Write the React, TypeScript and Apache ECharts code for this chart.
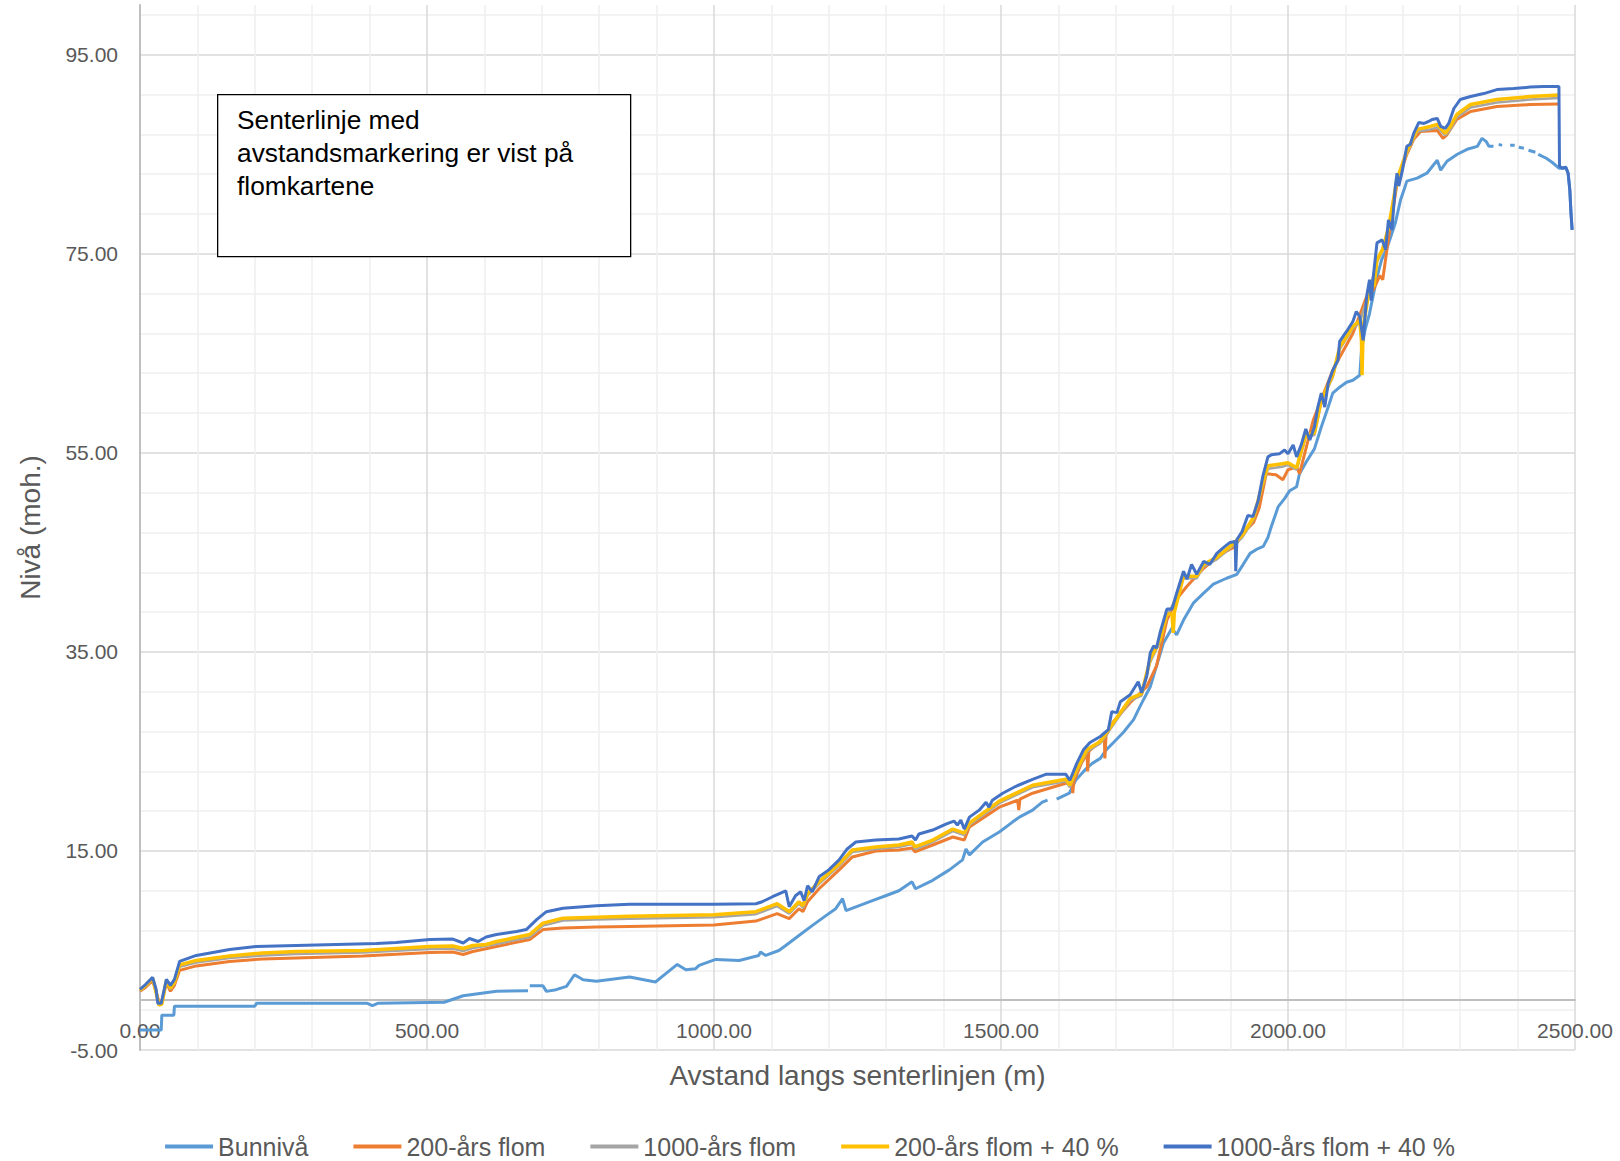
import React, { useEffect, useRef } from "react";
import * as echarts from "echarts";

const FONT = "'Liberation Sans', Arial, Helvetica, sans-serif";

const seriesNames = [
  "Bunnivå",
  "200-års flom",
  "1000-års flom",
  "200-års flom + 40 %",
  "1000-års flom + 40 %",
];
const seriesColors = ["#5B9BD5", "#ED7D31", "#A5A5A5", "#FFC000", "#4472C4"];

const xTicks = [0, 500, 1000, 1500, 2000, 2500];
const yTicks = [-5, 15, 35, 55, 75, 95];

const noteText = ["Senterlinje med", "avstandsmarkering er vist på", "flomkartene"];

// [distance (m), level (moh.)]
const bunniva: [number, number | null][] = [
  [0, -3.0], [37, -3.0], [38, -1.5], [59, -1.5], [60, -0.6], [200, -0.6], [203, -0.3],
  [395, -0.3], [405, -0.55], [415, -0.3], [530, -0.2], [563, 0.45], [621, 0.9], [676, 0.96],
  [677, null], [679, 1.46], [702, 1.46], [708, 0.89], [725, 1.06], [743, 1.4], [757, 2.56],
  [772, 2.06], [795, 1.9], [853, 2.33], [898, 1.83], [916, 2.67], [936, 3.6], [951, 3.07],
  [968, 3.17], [974, 3.5], [1003, 4.1], [1044, 4.0], [1078, 4.5], [1081, 4.85], [1090, 4.5],
  [1113, 5.0], [1125, 5.5], [1148, 6.5], [1171, 7.5], [1195, 8.5], [1212, 9.2], [1224, 10.2],
  [1230, 9.0], [1253, 9.5], [1276, 10.0], [1299, 10.5], [1322, 11.0], [1345, 11.9], [1351, 11.2],
  [1381, 12.05], [1410, 13.1], [1433, 14.1], [1439, 15.2], [1445, 14.6], [1468, 15.9],
  [1497, 16.9], [1520, 17.9], [1532, 18.4], [1555, 19.1], [1572, 19.9], [1581, 20.1],
  [1589, null], [1597, 20.2], [1619, 20.8], [1630, 22.1], [1649, 23.3], [1659, 23.8],
  [1673, 24.3], [1684, 25.2], [1696, 25.9], [1713, 26.9], [1731, 28.2], [1742, 29.5],
  [1760, 31.5], [1771, 33.6], [1783, 35.9], [1798, 37.4], [1806, 36.7], [1818, 38.2],
  [1835, 39.9], [1853, 40.9], [1870, 41.8], [1893, 42.4], [1911, 42.8], [1922, 43.8],
  [1934, 44.9], [1945, 45.3], [1957, 45.6], [1965, 46.5], [1971, 47.6], [1983, 49.6],
  [1994, 50.4], [2003, 51.2], [2015, 51.6], [2020, 52.9], [2032, 54.1], [2046, 55.4],
  [2058, 57.6], [2070, 59.6], [2078, 61.0], [2090, 61.6], [2102, 62.1], [2113, 62.3],
  [2125, 62.8], [2128, 65.3], [2134, 67.3], [2142, 69.0], [2148, 70.7], [2154, 72.4],
  [2163, 74.4], [2172, 75.5], [2187, 78.1], [2196, 80.4], [2202, 81.4], [2207, 82.3],
  [2225, 82.6], [2242, 83.1], [2260, 84.4], [2266, 83.4], [2277, 84.3], [2295, 85.0],
  [2312, 85.5], [2330, 85.8], [2338, 86.6], [2345, 86.3], [2350, 85.8], [2358, 85.8],
  [2362, null], [2367, 86.0], [2373, 85.9], [2380, null], [2387, 85.9], [2395, 85.9],
  [2398, null], [2402, 85.7], [2411, 85.6], [2415, null], [2419, 85.4], [2431, 85.2],
  [2433, null], [2436, 85.0], [2450, 84.6], [2460, 84.2], [2472, 83.6], [2478, 83.6],
  [2484, 83.7], [2488, 83.1], [2491, 81.4], [2493, 79.1], [2495, 77.4],
];

const flom200: [number, number][] = [
  [0, 0.9], [10, 1.3], [22, 2.0], [28, 0.9], [33, -0.2], [38, -0.1], [46, 1.8], [53, 0.9],
  [60, 1.5], [69, 3.0], [98, 3.45], [156, 3.9], [214, 4.15], [272, 4.25], [388, 4.45],
  [505, 4.8], [545, 4.85], [563, 4.6], [580, 4.9], [621, 5.4], [679, 6.1], [702, 7.1],
  [737, 7.25], [795, 7.35], [853, 7.42], [1000, 7.55], [1073, 7.95], [1110, 8.7], [1131, 8.2],
  [1148, 9.2], [1155, 8.9], [1163, 9.9], [1183, 11.2], [1218, 13.1], [1241, 14.4],
  [1282, 15.0], [1322, 15.1], [1345, 15.3], [1350, 14.9], [1381, 15.6], [1416, 16.4],
  [1436, 16.1], [1445, 17.4], [1497, 19.4], [1529, 20.1], [1531, 19.1], [1533, 20.2],
  [1555, 20.8], [1613, 21.8], [1624, 21.8], [1625, 20.8], [1627, 22.0], [1640, 23.8],
  [1650, 24.8], [1651, 23.0], [1653, 25.0], [1670, 25.9], [1680, 26.4], [1681, 24.3],
  [1683, 26.6], [1696, 28.0], [1725, 29.9], [1754, 31.5], [1771, 33.6], [1789, 38.2],
  [1806, 40.3], [1824, 41.6], [1853, 43.4], [1882, 44.8], [1905, 45.5], [1928, 47.3],
  [1940, 48.0], [1950, 49.5], [1962, 52.9], [1979, 52.8], [1991, 52.3], [2000, 53.3],
  [2015, 53.6], [2020, 52.9], [2044, 58.3], [2078, 63.3], [2090, 64.6], [2113, 67.0],
  [2137, 70.7], [2148, 71.3], [2160, 72.8], [2165, 72.4], [2175, 76.5], [2190, 82.1],
  [2207, 85.0], [2219, 86.5], [2231, 87.3], [2260, 87.4], [2270, 86.6], [2276, 86.9],
  [2294, 88.5], [2318, 89.3], [2364, 89.8], [2422, 90.0], [2472, 90.05],
];

const flom1000: [number, number][] = [
  [0, 0.95], [10, 1.4], [22, 2.1], [28, 0.8], [33, -0.4], [38, -0.3], [46, 1.9], [53, 1.1],
  [60, 1.7], [69, 3.35], [98, 3.8], [156, 4.25], [214, 4.5], [272, 4.65], [388, 4.8],
  [505, 5.15], [545, 5.2], [563, 4.95], [580, 5.25], [621, 5.65], [679, 6.35], [702, 7.5],
  [737, 8.0], [795, 8.1], [853, 8.2], [1000, 8.35], [1073, 8.65], [1110, 9.45], [1131, 8.7],
  [1148, 9.7], [1155, 9.3], [1163, 10.5], [1183, 11.7], [1218, 13.5], [1241, 14.9],
  [1282, 15.2], [1322, 15.4], [1345, 15.7], [1350, 15.2], [1381, 15.9], [1416, 17.0],
  [1436, 16.6], [1445, 17.6], [1497, 19.8], [1555, 21.4], [1613, 22.0], [1620, 21.4],
  [1632, 23.0], [1650, 25.0], [1673, 25.8], [1690, 27.2], [1702, 28.2], [1725, 30.1],
  [1745, 30.6], [1760, 34.0], [1777, 36.0], [1789, 38.6], [1806, 40.5], [1818, 42.4],
  [1841, 42.4], [1853, 43.6], [1876, 44.3], [1899, 45.4], [1920, 46.5], [1940, 48.3],
  [1956, 51.8], [1965, 53.4], [1990, 53.6], [2000, 53.8], [2015, 53.3], [2031, 56.6],
  [2046, 56.8], [2058, 60.1], [2078, 62.6], [2090, 65.4], [2113, 67.5], [2125, 68.1],
  [2142, 71.3], [2155, 74.2], [2165, 75.3], [2175, 77.4], [2190, 82.3], [2207, 85.1],
  [2225, 87.3], [2248, 87.5], [2260, 87.7], [2274, 86.9], [2283, 87.5], [2294, 88.7],
  [2318, 89.7], [2364, 90.2], [2422, 90.5], [2472, 90.65],
];

const flom200p40: [number, number][] = [
  [0, 1.0], [10, 1.5], [22, 2.2], [28, 0.8], [33, -0.5], [38, -0.4], [46, 2.0], [53, 1.2],
  [60, 1.8], [69, 3.55], [98, 4.0], [156, 4.45], [214, 4.75], [272, 4.9], [388, 5.0],
  [505, 5.4], [545, 5.45], [563, 5.2], [580, 5.5], [603, 5.6], [621, 5.9], [679, 6.6],
  [702, 7.75], [737, 8.25], [795, 8.35], [853, 8.45], [1000, 8.6], [1073, 8.9], [1110, 9.7],
  [1131, 8.9], [1148, 9.9], [1155, 9.5], [1163, 10.7], [1183, 11.9], [1218, 13.7],
  [1241, 15.1], [1282, 15.4], [1322, 15.6], [1345, 15.9], [1350, 15.4], [1381, 16.1],
  [1416, 17.2], [1436, 16.8], [1445, 17.8], [1497, 20.0], [1555, 21.6], [1613, 22.2],
  [1620, 21.6], [1632, 23.2], [1650, 25.2], [1673, 26.0], [1690, 27.4], [1702, 28.4],
  [1725, 30.3], [1745, 30.8], [1760, 34.3], [1777, 36.2], [1789, 38.8], [1798, 38.8],
  [1800, 36.9], [1802, 39.0], [1818, 42.6], [1841, 42.6], [1853, 43.8], [1876, 44.5],
  [1899, 45.6], [1920, 46.7], [1940, 48.5], [1956, 52.0], [1965, 53.7], [1990, 53.9],
  [2000, 54.0], [2015, 53.5], [2031, 56.8], [2046, 57.0], [2058, 60.3], [2078, 62.8],
  [2090, 65.6], [2113, 67.7], [2125, 68.3], [2128, 66.3], [2129, 62.8], [2131, 67.7],
  [2142, 71.5], [2150, 71.8], [2155, 74.4], [2165, 75.5], [2175, 77.6], [2190, 82.5],
  [2207, 85.3], [2225, 87.5], [2248, 87.8], [2260, 88.0], [2274, 87.1], [2283, 87.8],
  [2294, 89.0], [2318, 90.0], [2364, 90.5], [2422, 90.8], [2472, 90.95],
];

const flom1000p40: [number, number][] = [
  [0, 1.1], [10, 1.6], [22, 2.3], [28, 1.1], [31, -0.3], [37, -0.3], [46, 2.1], [53, 1.5],
  [60, 2.1], [69, 3.9], [98, 4.5], [156, 5.1], [202, 5.4], [272, 5.5], [412, 5.7], [446, 5.8],
  [505, 6.1], [545, 6.15], [563, 5.75], [574, 6.2], [589, 5.9], [603, 6.35], [621, 6.6],
  [656, 6.9], [673, 7.1], [691, 8.1], [708, 8.9], [737, 9.25], [795, 9.5], [853, 9.65],
  [1000, 9.65], [1073, 9.7], [1084, 9.9], [1102, 10.4], [1125, 11.0], [1131, 9.4],
  [1142, 10.5], [1151, 10.9], [1157, 10.0], [1163, 11.5], [1171, 10.9], [1183, 12.4],
  [1200, 13.1], [1218, 14.1], [1232, 15.2], [1247, 15.9], [1282, 16.1], [1322, 16.2],
  [1345, 16.5], [1351, 16.1], [1357, 16.7], [1381, 17.1], [1404, 17.7], [1418, 18.0],
  [1424, 17.6], [1430, 18.1], [1436, 17.2], [1445, 18.4], [1462, 19.1], [1474, 19.9],
  [1479, 19.4], [1485, 20.1], [1503, 20.8], [1526, 21.5], [1555, 22.2], [1578, 22.7],
  [1613, 22.7], [1620, 22.1], [1632, 23.8], [1644, 25.2], [1655, 25.9], [1673, 26.5],
  [1687, 27.2], [1693, 29.0], [1702, 28.9], [1708, 30.0], [1725, 30.7], [1739, 32.0],
  [1745, 30.9], [1754, 32.6], [1760, 34.9], [1766, 35.6], [1771, 35.4], [1777, 36.9],
  [1789, 39.3], [1798, 39.3], [1806, 40.9], [1818, 43.1], [1824, 42.3], [1832, 43.8],
  [1841, 42.8], [1853, 44.1], [1864, 43.8], [1876, 44.9], [1888, 45.5], [1899, 46.0],
  [1908, 46.1], [1909, 43.1], [1911, 46.3], [1920, 47.1], [1930, 48.7], [1939, 48.6],
  [1948, 50.2], [1956, 52.6], [1965, 54.6], [1971, 54.8], [1985, 54.9], [1994, 55.3],
  [2000, 54.9], [2009, 55.8], [2015, 54.6], [2023, 55.8], [2031, 57.4], [2038, 56.3],
  [2046, 57.6], [2052, 59.6], [2058, 61.0], [2064, 59.6], [2070, 62.0], [2078, 63.3],
  [2087, 64.3], [2090, 66.2], [2102, 67.2], [2113, 68.2], [2119, 69.2], [2125, 68.7],
  [2131, 66.3], [2137, 70.7], [2142, 72.4], [2145, 70.3], [2148, 72.4], [2155, 76.1],
  [2164, 76.4], [2170, 75.4], [2175, 78.4], [2181, 77.4], [2187, 81.8], [2190, 83.1],
  [2193, 81.8], [2199, 83.3], [2207, 85.8], [2213, 86.0], [2219, 87.1], [2228, 88.2],
  [2237, 88.1], [2245, 88.3], [2251, 88.5], [2260, 88.6], [2266, 87.8], [2274, 87.6],
  [2280, 88.1], [2289, 89.6], [2300, 90.5], [2318, 90.8], [2341, 91.1], [2364, 91.5],
  [2393, 91.6], [2422, 91.75], [2446, 91.8], [2472, 91.8], [2473, 83.8], [2478, 83.6],
  [2484, 83.7], [2488, 83.1], [2491, 81.4], [2493, 79.1], [2495, 77.4],
];

const seriesData = [bunniva, flom200, flom1000, flom200p40, flom1000p40];
const seriesWidths = [3, 3, 2.5, 3.5, 3];

export default function App() {
  const ref = useRef<HTMLDivElement>(null);

  useEffect(() => {
    if (!ref.current) return;
    const chart = echarts.init(ref.current, null, { renderer: "svg" });
    const option: any = {
      animation: false,
      backgroundColor: "#ffffff",
      textStyle: { fontFamily: FONT },
      grid: { left: 140, right: 45, top: 5, bottom: 111, containLabel: false },
      xAxis: {
        type: "value",
        min: xTicks[0],
        max: xTicks[xTicks.length - 1],
        interval: xTicks[1] - xTicks[0],
        name: "Avstand langs senterlinjen (m)",
        nameLocation: "middle",
        nameGap: 11,
        nameTextStyle: { fontSize: 28, color: "#595959", fontFamily: FONT },
        axisLine: { show: true, onZero: true, lineStyle: { color: "#BFBFBF", width: 2 } },
        axisTick: { show: false },
        axisLabel: {
          fontSize: 21,
          color: "#595959",
          fontFamily: FONT,
          margin: -30,
          formatter: (v: number) => v.toFixed(2),
        },
        splitLine: { show: true, lineStyle: { color: "#D9D9D9", width: 1.5 } },
        minorTick: { show: false, splitNumber: 5 },
        minorSplitLine: { show: true, lineStyle: { color: "#EFEFEF", width: 1.5 } },
      },
      yAxis: {
        type: "value",
        min: yTicks[0],
        max: 100,
        interval: yTicks[1] - yTicks[0],
        name: "Nivå (moh.)",
        nameLocation: "middle",
        nameGap: 96,
        nameTextStyle: { fontSize: 28, color: "#595959", fontFamily: FONT },
        axisLine: { show: true, lineStyle: { color: "#BFBFBF", width: 2 } },
        axisTick: { show: false },
        axisLabel: {
          fontSize: 21,
          color: "#595959",
          fontFamily: FONT,
          margin: 22,
          showMaxLabel: false,
          formatter: (v: number) => v.toFixed(2),
        },
        splitLine: { show: true, showMaxLine: false, lineStyle: { color: "#D9D9D9", width: 1.5 } },
        minorTick: { show: false, splitNumber: 5 },
        minorSplitLine: { show: true, lineStyle: { color: "#EFEFEF", width: 1.5 } },
      },
      legend: {
        data: seriesNames,
        top: 1129,
        left: "center",
        icon: "rect",
        itemWidth: 48,
        itemHeight: 4,
        itemGap: 45,
        textStyle: { fontSize: 25, color: "#595959", fontFamily: FONT },
      },
      graphic: [
        {
          type: "rect",
          left: 217,
          top: 94,
          z: 100,
          shape: { x: 0, y: 0, width: 413, height: 162 },
          style: { fill: "#ffffff", stroke: "#000000", lineWidth: 1.3 },
        },
        {
          type: "text",
          left: 237,
          top: 103,
          z: 101,
          style: {
            text: noteText.join("\n"),
            fontSize: 26.3,
            fontFamily: FONT,
            fill: "#000000",
            lineHeight: 33,
          },
        },
      ],
      series: seriesNames.map((name, i) => ({
        name,
        type: "line",
        data: seriesData[i],
        showSymbol: false,
        symbol: "none",
        connectNulls: false,
        lineStyle: { width: seriesWidths[i], color: seriesColors[i] },
        itemStyle: { color: seriesColors[i] },
        emphasis: { disabled: true },
      })),
    };
    chart.setOption(option);
    return () => chart.dispose();
  }, []);

  return (
    <div
      ref={ref}
      style={{ position: "fixed", left: 0, top: 0, width: 1620, height: 1161, background: "#fff" }}
    />
  );
}
